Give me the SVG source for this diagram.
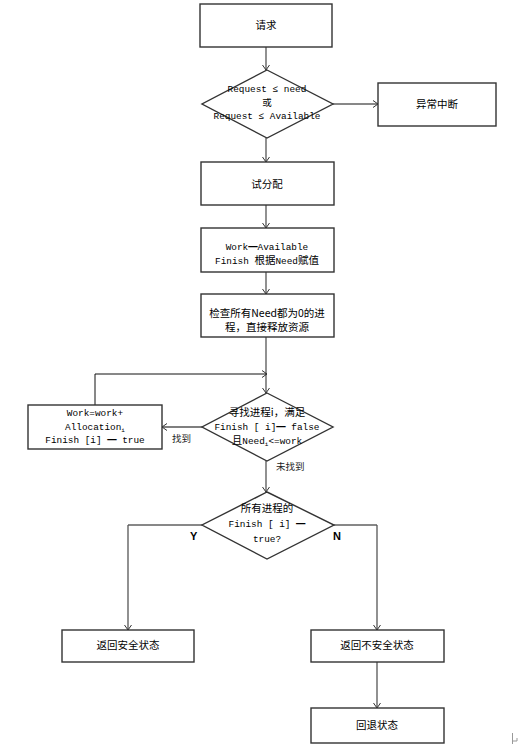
<svg xmlns="http://www.w3.org/2000/svg" width="527" height="755" viewBox="0 0 527 755">
<style>
.box{fill:#fff;stroke:#333;stroke-width:1.4}
.t{font-family:"Liberation Mono","Noto Sans CJK SC",monospace;font-size:9.4px;fill:#000;text-anchor:middle}
.c{font-family:"Noto Sans CJK SC",sans-serif;font-size:10.5px}
.lbl{font-family:"Noto Sans CJK SC",sans-serif;font-size:9.5px;fill:#222}
.yn{font-family:"Liberation Sans",sans-serif;font-size:11px;font-weight:bold;fill:#000}
.ln{fill:none;stroke:#555;stroke-width:1.3}
.lk{fill:none;stroke:#111;stroke-width:1}
</style>
<defs>
<marker id="ah" markerUnits="userSpaceOnUse" markerWidth="10" markerHeight="10" refX="6" refY="4" orient="auto">
<path d="M1,0.5 L6,4 L1,7.5" fill="none" stroke="#333" stroke-width="1"/>
</marker>
</defs>
<g id="connectors">
<path class="ln" d="M266,47 V70" marker-end="url(#ah)"/>
<path class="lk" d="M333,104 H378" marker-end="url(#ah)"/>
<path class="ln" d="M266,138 V162" marker-end="url(#ah)"/>
<path class="ln" d="M266,205 V228" marker-end="url(#ah)"/>
<path class="ln" d="M266,272 V294" marker-end="url(#ah)"/>
<path class="ln" d="M266,337 V393" marker-end="url(#ah)"/>
<path class="lk" d="M95,405 V374 H267" marker-end="url(#ah)"/>
<path class="ln" d="M202,427 H162" marker-end="url(#ah)"/>
<path class="ln" d="M266,461 V492" marker-end="url(#ah)"/>
<path class="lk" d="M202,525 H128"/>
<path class="ln" d="M128,525 V630" marker-end="url(#ah)"/>
<path class="lk" d="M334,525 H377"/>
<path class="ln" d="M377,525 V630" marker-end="url(#ah)"/>
<path class="ln" d="M377,662 V708" marker-end="url(#ah)"/>
<text class="lbl" x="172" y="442">找到</text>
<text class="lbl" x="276" y="470">未找到</text>
<text class="yn" x="190" y="540">Y</text>
<text class="yn" x="333" y="540">N</text>
</g>
<g id="n1"><rect class="box" x="200" y="4" width="132" height="43"/><text class="t c" x="266" y="29">请求</text></g>
<g id="n2"><polygon class="box" points="267,70 333,104 267,138 202,104"/>
<text class="t" x="267" y="92">Request ≤ need</text>
<text class="t c" x="267" y="106" font-size="9.5px" style="font-size:9.5px">或</text>
<text class="t" x="267" y="119">Request ≤ Available</text></g>
<g id="n3"><rect class="box" x="378" y="83" width="118" height="43"/><text class="t c" x="437" y="108">异常中断</text></g>
<g id="n4"><rect class="box" x="201" y="162" width="133" height="43"/><text class="t c" x="267" y="188">试分配</text></g>
<g id="n5"><rect class="box" x="201" y="228" width="133" height="44"/>
<text class="t" x="267" y="250">Work━Available</text>
<text class="t" x="267" y="264">Finish <tspan class="c">根据</tspan>Need<tspan class="c">赋值</tspan></text></g>
<g id="n6"><rect class="box" x="201" y="294" width="133" height="43"/>
<text class="t c" x="267" y="317">检查所有Need都为0的进</text>
<text class="t c" x="267" y="331">程，直接释放资源</text></g>
<g id="n7"><polygon class="box" points="267,393 333,427 267,461 202,427"/>
<text class="t c" x="267" y="416">寻找进程i，满足</text>
<text class="t" x="267" y="430">Finish [ i]━ false</text>
<text class="t" x="267" y="444"><tspan class="c">且</tspan>Need<tspan font-size="6" dy="2">i</tspan><tspan dy="-2">&lt;=work</tspan></text></g>
<g id="n8"><rect class="box" x="28" y="405" width="134" height="44"/>
<text class="t" x="95" y="416">Work=work+</text>
<text class="t" x="95" y="430">Allocation<tspan font-size="6" dy="2">i</tspan></text>
<text class="t" x="95" y="443">Finish [i] ━ true</text></g>
<g id="n9"><polygon class="box" points="267,492 334,525 267,559 202,525"/>
<text class="t c" x="267" y="512">所有进程的</text>
<text class="t" x="267" y="527">Finish [ i] ━</text>
<text class="t" x="267" y="542">true?</text></g>
<g id="n10"><rect class="box" x="62" y="630" width="132" height="32"/><text class="t c" x="128" y="649">返回安全状态</text></g>
<g id="n11"><rect class="box" x="311" y="630" width="133" height="32"/><text class="t c" x="377" y="649">返回不安全状态</text></g>
<g id="n12"><rect class="box" x="311" y="708" width="133" height="35"/><text class="t c" x="377" y="729">回退状态</text></g>
<path d="M512.5,733 V744 M512.5,741 H517 V738" fill="none" stroke="#999" stroke-width="1"/>
</svg>
